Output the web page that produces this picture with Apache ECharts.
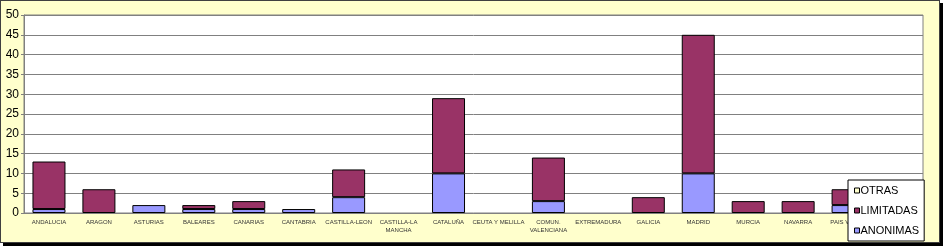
<!DOCTYPE html>
<html><head><meta charset="utf-8">
<script src="https://cdn.jsdelivr.net/npm/echarts@6/dist/echarts.min.js"></script>
<style>
html,body{margin:0;padding:0;background:#fff;}
#wrap{position:absolute;left:0;top:0;width:940px;height:243px;box-sizing:border-box;border:1px solid #404040;background:#FFFFCC;box-shadow:3px 3px 0 #000;}
#chart{width:938px;height:241px;}
</style></head>
<body><div id="wrap"><div id="chart"></div></div>
<script>
const categories = ['ANDALUCIA','ARAGON','ASTURIAS','BALEARES','CANARIAS','CANTABRIA','CASTILLA-LEON','CASTILLA-LA\nMANCHA','CATALUÑA','CEUTA Y MELILLA','COMUN.\nVALENCIANA','EXTREMADURA','GALICIA','MADRID','MURCIA','NAVARRA','PAIS VASCO','RIOJA'];
const anonimas  = [1,0,2,1,1,1,4,0,10,0,3,0,0,10,0,0,2,0];
const limitadas = [12,6,0,1,2,0,7,0,19,0,11,0,4,35,3,3,4,0];
const otras     = [0,0,0,0,0,0,0,0,0,0,0,0,0,0,0,0,0,0];
const seriesNames = ['ANONIMAS','LIMITADAS','OTRAS'];
const yTicks = {min:0, max:50, interval:5};

const colors = ['#9999FF','#993366','#FFFFCC'];
const chart = echarts.init(document.getElementById('chart'));
const nz = a => a.map(v => v === 0 ? null : v);
const mk = (name, data, i) => ({
  name, type:'bar', stack:'t', data: nz(data), barWidth:33,
  itemStyle:{color:colors[i], borderColor:'#000', borderWidth:1}
});
chart.setOption({
  animation:false,
  grid:{left:23, right:16, top:14, bottom:29, show:true, backgroundColor:'#fff', borderColor:'#808080', borderWidth:1},
  legend:{
    data:['OTRAS','LIMITADAS','ANONIMAS'], orient:'vertical', left:847, top:179,
    backgroundColor:'#fff', borderColor:'#000', borderWidth:1,
    padding:[5,5,5,6], itemGap:9, itemWidth:5, itemHeight:5, icon:'rect',
    itemStyle:{borderColor:'#000', borderWidth:1},
    textStyle:{fontFamily:'Liberation Sans, Arial', fontSize:11, color:'#000', padding:[0,0,0,-4]}
  },
  xAxis:{type:'category', data:categories,
    axisLine:{lineStyle:{color:'#808080'}}, axisTick:{show:false},
    axisLabel:{interval:0, fontSize:6, color:'#333', fontFamily:'Liberation Sans, Arial', margin:5, lineHeight:8}
  },
  yAxis:{type:'value', min:yTicks.min, max:yTicks.max, interval:yTicks.interval,
    axisLine:{show:true, lineStyle:{color:'#808080'}},
    axisTick:{show:true, length:3, lineStyle:{color:'#808080'}},
    splitLine:{lineStyle:{color:'#808080', width:1}},
    axisLabel:{fontSize:12, color:'#000', fontFamily:'Liberation Sans, Arial', margin:5}
  },
  series: seriesNames.map((n,i)=>mk(n,[anonimas,limitadas,otras][i],i))
});
</script></body></html>
